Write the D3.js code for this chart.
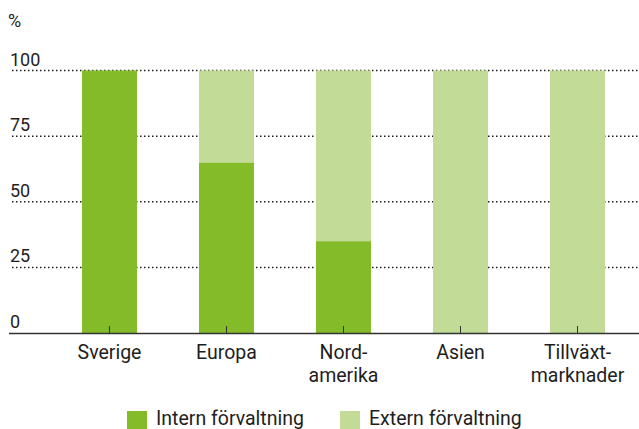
<!DOCTYPE html>
<html lang="sv">
<head>
<meta charset="UTF-8">
<script src="https://d3js.org/d3.v7.min.js"></script>
<style>
    body { margin: 0; background: #fff; }
    svg text { font-family: Roboto, "Noto Sans", sans-serif; fill: #1e1e1e; }
</style>
</head>
<body>
<svg id="canvas" width="639" height="429"></svg>
<script>
    // data
    const categories = ["Sverige", "Europa", "Nordamerika", "Asien", "Tillväxtmarknader"];
    const categoryLabels = [["Sverige"], ["Europa"], ["Nord-", "amerika"], ["Asien"], ["Tillväxt-", "marknader"]];
    const intern = [100, 65, 35, 0, 0];
    const extern = [0, 35, 65, 100, 100];
    const yTicks = [0, 25, 50, 75, 100];
    const seriesNames = ["Intern förvaltning", "Extern förvaltning"];
    const colors = ["#83bb29", "#c2dc98"];

    const svg = d3.select("#canvas");

    const x = d3.scaleBand()
        .domain(categories)
        .range([51, 636])
        .paddingInner(0.53)
        .paddingOuter(0.265);

    const y = d3.scaleLinear()
        .domain([0, 100])
        .range([333, 70.5]);

    // gridlines (dotted)
    svg.append("g")
        .selectAll("line")
        .data(yTicks.filter(d => d > 0))
        .join("line")
        .attr("x1", 12)
        .attr("x2", 639)
        .attr("y1", d => y(d))
        .attr("y2", d => y(d))
        .attr("stroke", "#1e1e1e")
        .attr("stroke-width", 1.5)
        .attr("stroke-dasharray", "1.5,2.5");

    // y tick labels sit above the lines
    svg.append("g")
        .selectAll("text")
        .data(yTicks)
        .join("text")
        .attr("x", 10)
        .attr("y", d => y(d) - 5)
        .attr("font-size", 18)
        .text(d => d);

    svg.append("text")
        .attr("x", 8)
        .attr("y", 27)
        .attr("font-size", 18)
        .text("%");

    // stacked bars
    const rows = categories.map((c, i) => ({ intern: intern[i], extern: extern[i] }));
    const stacked = d3.stack().keys(["intern", "extern"])(rows);

    svg.append("g")
        .selectAll("g")
        .data(stacked)
        .join("g")
        .attr("fill", (d, i) => colors[i])
        .selectAll("rect")
        .data(d => d)
        .join("rect")
        .attr("x", (d, i) => x(categories[i]))
        .attr("y", d => y(d[1]))
        .attr("width", x.bandwidth())
        .attr("height", d => y(d[0]) - y(d[1]));

    // baseline + ticks
    svg.append("line")
        .attr("x1", 9)
        .attr("x2", 639)
        .attr("y1", y(0) + 0.5)
        .attr("y2", y(0) + 0.5)
        .attr("stroke", "#333")
        .attr("stroke-width", 1.3);

    svg.append("g")
        .selectAll("line")
        .data(categories)
        .join("line")
        .attr("x1", d => x(d) + x.bandwidth() / 2)
        .attr("x2", d => x(d) + x.bandwidth() / 2)
        .attr("y1", y(0))
        .attr("y2", y(0) - 7)
        .attr("stroke", "#333")
        .attr("stroke-width", 1);

    // category labels
    svg.append("g")
        .selectAll("text")
        .data(categories)
        .join("text")
        .attr("x", d => x(d) + x.bandwidth() / 2)
        .attr("y", 359)
        .attr("text-anchor", "middle")
        .attr("font-size", 19.5)
        .selectAll("tspan")
        .data((d, i) => categoryLabels[i])
        .join("tspan")
        .attr("x", function () { return this.parentNode.getAttribute("x"); })
        .attr("dy", (d, i) => i === 0 ? 0 : 23)
        .text(d => d);

    // legend
    const legendX = [127, 340];
    const legend = svg.append("g")
        .selectAll("g")
        .data(seriesNames)
        .join("g")
        .attr("transform", (d, i) => `translate(${legendX[i]},411)`);

    legend.append("rect")
        .attr("width", 20)
        .attr("height", 18)
        .attr("fill", (d, i) => colors[i]);

    legend.append("text")
        .attr("x", 29)
        .attr("y", 13.5)
        .attr("font-size", 19.5)
        .text(d => d);
</script>
</body>
</html>
